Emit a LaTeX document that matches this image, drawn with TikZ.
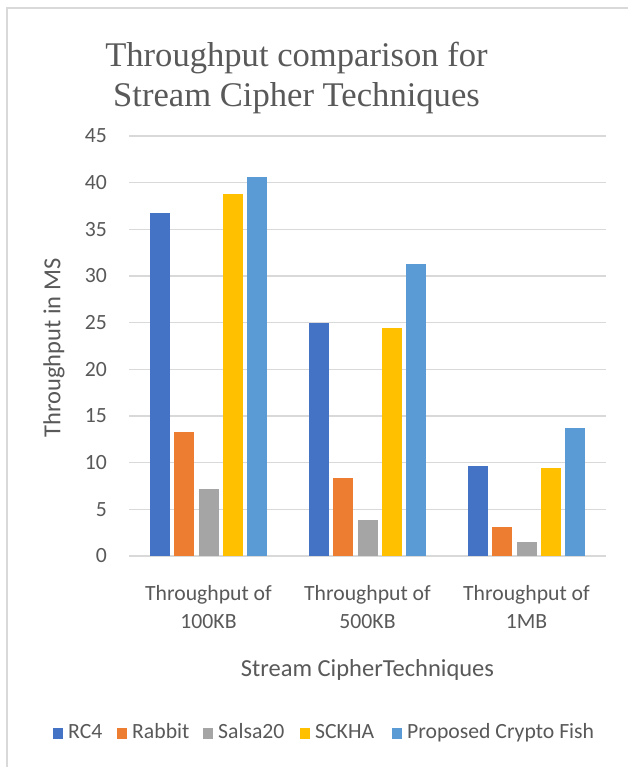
\documentclass[tikz,border=0pt]{standalone}
\usepackage{fontspec}
\setmainfont{Carlito}
\newfontfamily\titlefont{Liberation Serif}
\usetikzlibrary{positioning}
\definecolor{rcblue}{RGB}{68,114,196}
\definecolor{rborange}{RGB}{237,125,49}
\definecolor{slgray}{RGB}{165,165,165}
\definecolor{skgold}{RGB}{255,192,0}
\definecolor{pcblue}{RGB}{91,155,213}
\definecolor{txtgray}{RGB}{89,89,89}
\definecolor{gridgray}{RGB}{217,217,217}
\colorlet{ser1}{rcblue}
\colorlet{ser2}{rborange}
\colorlet{ser3}{slgray}
\colorlet{ser4}{skgold}
\colorlet{ser5}{pcblue}
\newcommand{\ticksize}{\fontsize{21.7}{26}\selectfont}
\newcommand{\axsize}{\fontsize{24.5}{29}\selectfont}

\begin{document}
\begin{tikzpicture}[x=1pt,y=-1pt,
lbl/.style={text=txtgray,inner sep=0pt,font=\ticksize},
axt/.style={text=txtgray,inner sep=0pt,font=\axsize},
ttl/.style={text=txtgray,inner sep=0pt,anchor=base,font={\titlefont\fontsize{34.6}{40}\selectfont}},
gridline/.style={draw=gridgray,line width=1.5pt}]
\useasboundingbox (0,0) rectangle (628,767);
\fill[white] (0,0) rectangle (628,767);
\draw[gridline] (7,767) |- (628,8);
\node[ttl] (title1) at (296.5,67) {Throughput comparison for};
\node[ttl] (title2) at (296.5,107) {Stream Cipher Techniques};
% value axis: 0 at y=556, 9.333 px per unit
\foreach \v in {0,5,...,45}{
\draw[gridline] (129,{556-9.3333*\v}) -- (606,{556-9.3333*\v});
\node[lbl,anchor=base east] (tick\v) at (107,{556-9.3333*\v+6.9}) {\v};
}
\foreach \gx/\vals in {208.5/{36.8,13.3,7.2,38.8,40.6},367.5/{25,8.4,3.9,24.4,31.3},526.5/{9.6,3.1,1.5,9.4,13.7}}{
\foreach \v [count=\i] in \vals
\fill[ser\i] ({\gx+24.3*(\i-3)-10},556) rectangle ({\gx+24.3*(\i-3)+10},{556-9.3333*\v});
}
\foreach \gx/\sz [count=\k] in {208.5/100KB,367.5/500KB,526.5/1MB}{
\node[lbl,anchor=base] (cat\k) at (\gx,600) {Throughput of};
\node[lbl,anchor=base] (size\k) at (\gx,628) {\sz};
}
\node[axt,anchor=base] (xtitle) at (367.5,676) {Stream CipherTechniques};
\node[axt,rotate=90] (ytitle) at (54,348) {Throughput in MS};
\foreach \tx/\name [count=\i] in {68/RC4,132/Rabbit,218/Salsa20,315/SCKHA,407/Proposed Crypto Fish}{
\fill[ser\i] ({\tx-15},728) rectangle ({\tx-5},739);
\node[lbl,anchor=base west] (leg\i) at (\tx,738) {\name};
}
\end{tikzpicture}
\end{document}
